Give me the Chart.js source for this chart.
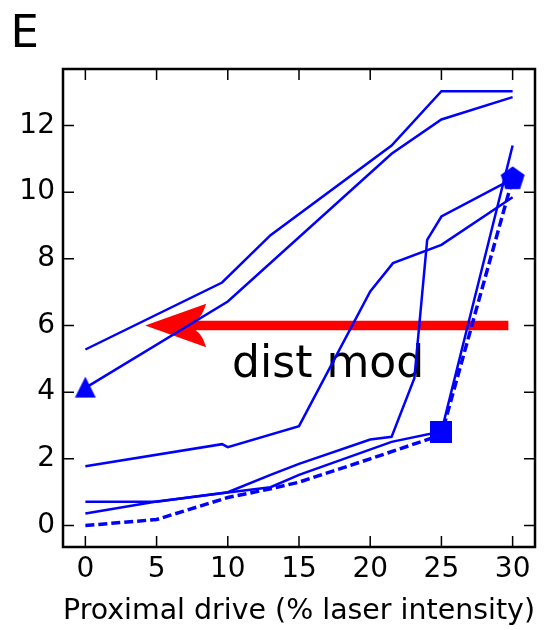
<!DOCTYPE html>
<html>
<head>
<meta charset="utf-8">
<script src="https://cdn.jsdelivr.net/npm/chart.js@4"></script>
<style>
  body { margin: 0; background: #fff; }
  canvas { display: block; }
</style>
</head>
<body>
<canvas id="panelE" width="548" height="630"></canvas>
<script>
// traces: x = proximal drive (% laser), y = response
const topX = [0, 9.6, 13, 21.5, 25, 30]
const topY = [5.28, 7.29, 8.71, 11.4, 13.03, 13.03]
const triX = [0, 10, 21.5, 25, 30]
const triY = [4.13, 6.72, 11.15, 12.18, 12.85]
const midX = [0, 9.6, 10, 15, 20, 21.6, 25, 30]
const midY = [1.78, 2.44, 2.35, 2.98, 7.02, 7.87, 8.42, 9.85]
const jumpX = [0, 5, 10, 13, 15, 20, 21.5, 23.1, 24, 25, 30]
const jumpY = [0.71, 0.71, 1.0, 1.52, 1.85, 2.58, 2.66, 4.42, 8.57, 9.27, 10.4]
const lowX = [0, 5, 10, 13, 15, 21.5, 25, 30]
const lowY = [0.36, 0.72, 0.99, 1.15, 1.52, 2.51, 2.82, 11.4]
const dashX = [0, 5, 10, 13, 15, 20, 25, 30]
const dashY = [0.0, 0.18, 0.84, 1.1, 1.3, 2.0, 2.72, 10.4]

// big markers: triangle, square, pentagon
const markX = [0, 25, 30]
const markY = [4.15, 2.8, 10.4]

// red arrow (tail -> head) and its label
const arrowX = [29.7, 4.2]
const arrowY = [6, 6]
const noteX = [10.3]
const noteY = [4.45]

const xTicks = [0, 5, 10, 15, 20, 25, 30]
const yTicks = [0, 2, 4, 6, 8, 10, 12]

const blue = '#0000ff'
const font = '"DejaVu Sans", sans-serif'

const pts = (xs, ys) => xs.map((v, i) => ({ x: v, y: ys[i] }))

function marker(shape) {
  const c = document.createElement('canvas')
  const g = c.getContext('2d')
  if (shape == 'tri') {
    c.width = 22; c.height = 22
    g.fillStyle = blue
    g.beginPath()
    g.moveTo(11, 0.5); g.lineTo(21.5, 21.5); g.lineTo(0.5, 21.5)
  } else if (shape == 'sq') {
    c.width = 22; c.height = 22
    g.fillStyle = blue
    g.beginPath()
    g.rect(0, 0, 22, 22)
  } else {
    c.width = 26; c.height = 26
    g.fillStyle = blue
    g.beginPath()
    for (let k = 0; k < 5; k++) {
      const a = -Math.PI / 2 + k * 2 * Math.PI / 5
      const px = 13 + 12.6 * Math.cos(a), py = 13 + 12.6 * Math.sin(a)
      k ? g.lineTo(px, py) : g.moveTo(px, py)
    }
  }
  g.closePath()
  g.fill()
  return c
}

const line = (xs, ys, dash) => ({
  data: pts(xs, ys),
  borderColor: blue,
  borderWidth: dash ? 3.5 : 2.5,
  borderDash: dash ? [9, 4] : [],
  pointRadius: 0,
  tension: 0,
  fill: false
})

const decor = {
  id: 'decor',
  beforeDatasetsDraw(chart) {
    const { ctx, scales: { x, y } } = chart
    const tx = x.getPixelForValue(arrowX[0]), hx = x.getPixelForValue(arrowX[1])
    const ay = y.getPixelForValue(arrowY[0])
    const half = 4.7, headLen = 61, headHalf = 21.7, notch = 10.6
    ctx.save()
    ctx.fillStyle = '#ff0000'
    ctx.beginPath()
    ctx.moveTo(hx, ay)
    ctx.lineTo(hx + headLen, ay - headHalf)
    ctx.quadraticCurveTo(hx + headLen - 4, ay - half - 4, hx + headLen - notch, ay - half)
    ctx.lineTo(tx, ay - half)
    ctx.lineTo(tx, ay + half)
    ctx.lineTo(hx + headLen - notch, ay + half)
    ctx.quadraticCurveTo(hx + headLen - 4, ay + half + 4, hx + headLen, ay + headHalf)
    ctx.closePath()
    ctx.fill()

    ctx.fillStyle = '#000'
    ctx.font = '44px ' + font
    ctx.textBaseline = 'alphabetic'
    ctx.fillText('dist mod', x.getPixelForValue(noteX[0]), y.getPixelForValue(noteY[0]))

    ctx.font = '45px ' + font
    ctx.fillText('E', 10.6, 46.7)
    ctx.restore()
  },
  afterDraw(chart) {
    const { ctx, chartArea: a, scales: { x, y } } = chart
    ctx.save()
    ctx.strokeStyle = '#000'
    ctx.lineWidth = 1.5
    ctx.beginPath()
    x.ticks.forEach(t => {
      const p = x.getPixelForValue(t.value)
      ctx.moveTo(p, a.bottom); ctx.lineTo(p, a.bottom - 11)
      ctx.moveTo(p, a.top); ctx.lineTo(p, a.top + 11)
    })
    y.ticks.forEach(t => {
      const p = y.getPixelForValue(t.value)
      ctx.moveTo(a.left, p); ctx.lineTo(a.left + 11, p)
      ctx.moveTo(a.right, p); ctx.lineTo(a.right - 11, p)
    })
    ctx.stroke()
    ctx.lineWidth = 2.5
    ctx.strokeRect(a.left, a.top, a.right - a.left, a.bottom - a.top)
    ctx.restore()
  }
}

const config = {
  type: 'line',
  data: {
    datasets: [
      {
        data: pts(markX, markY),
        showLine: false,
        pointStyle: [marker('tri'), marker('sq'), marker('pent')],
        pointRadius: 12,
        pointHoverRadius: 12
      },
      line(topX, topY),
      line(triX, triY),
      line(midX, midY),
      line(jumpX, jumpY),
      line(lowX, lowY),
      line(dashX, dashY, true)
    ]
  },
  options: {
    responsive: false,
    animation: false,
    layout: { padding: { top: 69, right: 6, left: 0, bottom: 0 } },
    plugins: { legend: { display: false }, tooltip: { enabled: false } },
    scales: {
      x: {
        type: 'linear',
        min: -1.571,
        max: 31.571,
        afterBuildTicks: s => { s.ticks = xTicks.map(v => ({ value: v })) },
        afterFit: s => { s.height = 83 },
        ticks: { font: { family: font, size: 28 }, color: '#000', padding: 6 },
        grid: { display: false, drawTicks: false },
        border: { display: false },
        title: {
          display: true,
          align: 'end',
          text: 'Proximal drive (% laser intensity)',
          font: { family: font, size: 28.5 },
          color: '#000',
          padding: { top: 0, bottom: 1.5 }
        }
      },
      y: {
        type: 'linear',
        min: -0.645,
        max: 13.695,
        afterBuildTicks: s => { s.ticks = yTicks.map(v => ({ value: v })) },
        afterFit: s => { s.width = 63 },
        ticks: { font: { family: font, size: 28 }, color: '#000', padding: 8 },
        grid: { display: false, drawTicks: false },
        border: { display: false }
      }
    }
  },
  plugins: [decor]
}

const chart = new Chart(document.getElementById('panelE'), config)
</script>
</body>
</html>
